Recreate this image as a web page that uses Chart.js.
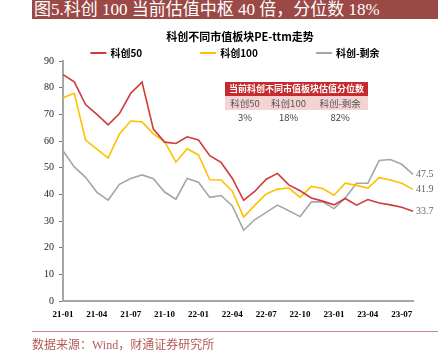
<!DOCTYPE html>
<html>
<head>
<meta charset="utf-8">
<script src="https://cdn.jsdelivr.net/npm/chart.js@4.4.0/dist/chart.umd.min.js"></script>
<style>
  html, body { margin: 0; padding: 0; background: #fff; }
  #wrap { position: relative; width: 438px; height: 355px; overflow: hidden; }
  #c { position: absolute; left: 0; top: 0; }
  #banner { position: absolute; left: 32px; top: 0; width: 406px; height: 19px; background: #9b4946;
    color: #fff; font: 17px "Liberation Serif", "Noto Sans CJK SC", serif; line-height: 19px; padding-left: 2px; box-sizing: border-box; white-space: nowrap; }
  #rule { position: absolute; left: 32px; top: 331px; width: 406px; height: 1px; background: #c98a8a; }
  #source { position: absolute; left: 32px; top: 338px; color: #b45a57; font: 12px "Liberation Serif", "Noto Sans CJK SC", serif; line-height: 15px; white-space: nowrap; }
  #tbl { position: absolute; left: 225px; top: 82px; width: 143px; border-collapse: collapse; font-family: "Noto Sans CJK SC", sans-serif; }
  #tbl td { padding: 0; text-align: center; height: 14px; line-height: 14px; white-space: nowrap; }
  #tbl .hd td { background: #c52b2e; color: #fff; font-weight: bold; font-size: 9px; }
  #tbl .r2 td { background: #f5d3d3; color: #555; font-size: 9.5px; }
  #tbl .r3 td { background: #fff; color: #444; font-size: 9.5px; }
</style>
</head>
<body>
<div id="wrap">
  <canvas id="c" width="438" height="355"></canvas>
  <div id="banner"></div>
  <table id="tbl"></table>
  <div id="rule"></div>
  <div id="source"></div>
</div>
<script>
// ---- data ----
const bannerText = '图5.科创 100 当前估值中枢 40 倍，分位数 18%';
const chartTitle = '科创不同市值板块PE-ttm走势';
const sourceText = '数据来源：Wind，财通证券研究所';
const months = ['21-01','21-02','21-03','21-04','21-05','21-06','21-07','21-08','21-09','21-10','21-11','21-12',
                '22-01','22-02','22-03','22-04','22-05','22-06','22-07','22-08','22-09','22-10','22-11','22-12',
                '23-01','23-02','23-03','23-04','23-05','23-06','23-07','23-08'];
const seriesNames = ['科创50', '科创100', '科创-剩余'];
const kc50 = [84.9, 82.2, 73.7, 70.0, 66.1, 70.3, 77.9, 82.1, 64.5, 59.6, 59.1, 61.6,
              60.4, 54.5, 52.0, 46.0, 37.8, 41.2, 45.7, 47.9, 43.6, 41.4, 38.7, 37.5,
              36.1, 38.5, 36.0, 38.1, 36.8, 36.1, 35.2, 33.7];
const kc100 = [76.2, 77.9, 60.4, 57.0, 53.7, 62.7, 67.5, 67.2, 62.7, 59.8, 52.1, 57.1,
               54.8, 45.5, 45.4, 41.2, 31.5, 36.0, 40.2, 42.0, 42.4, 38.9, 43.0, 42.2,
               39.7, 44.2, 43.4, 42.4, 46.3, 45.4, 44.2, 41.9];
const kcRest = [56.4, 50.3, 46.4, 40.8, 37.9, 43.8, 46.0, 47.3, 45.9, 40.9, 38.2, 46.0,
                44.6, 38.9, 39.6, 35.7, 26.6, 30.6, 33.3, 36.0, 33.9, 31.7, 37.2, 37.2,
                34.7, 38.7, 44.2, 44.2, 52.7, 53.1, 51.3, 47.5];
const yMin = 0, yMax = 90, yStep = 10;
const tableTitle = '当前科创不同市值板块估值分位数';
const tableNames = ['科创50', '科创100', '科创-剩余'];
const tablePct = ['3%', '18%', '82%'];

// ---- text overlays ----
document.getElementById('banner').textContent = bannerText;
document.getElementById('source').textContent = sourceText;
const tbl = document.getElementById('tbl');
tbl.innerHTML = '<tr class="hd"><td colspan="3">' + tableTitle + '</td></tr>' +
  '<tr class="r2">' + tableNames.map(t => '<td>' + t + '</td>').join('') + '</tr>' +
  '<tr class="r3">' + tablePct.map(t => '<td>' + t + '</td>').join('') + '</tr>';

const colors = ['#d13a3a', '#ffc000', '#a6a6a6'];

const headerPlugin = {
  id: 'titleLegend',
  afterDraw(chart) {
    const ctx = chart.ctx;
    const ca = chart.chartArea;
    const cx = (ca.left + ca.right) / 2;
    ctx.save();
    // title
    ctx.font = 'bold 11px "Noto Sans CJK SC", sans-serif';
    ctx.textAlign = 'center';
    ctx.textBaseline = 'middle';
    ctx.fillStyle = '#000';
    ctx.fillText(chartTitle, cx + 2, ca.top - 24);
    // legend
    ctx.textAlign = 'left';
    ctx.font = 'bold 10px "Noto Sans CJK SC", sans-serif';
    const lineW = 16, gapT = 4, gapItem = 58;
    const items = chart.data.datasets.map(ds => ({ text: ds.label, color: ds.borderColor, w: lineW + gapT + ctx.measureText(ds.label).width }));
    const total = items.reduce((s, it) => s + it.w, 0) + gapItem * (items.length - 1);
    let x = cx - 3 - total / 2;
    const y = ca.top - 8;
    items.forEach(it => {
      ctx.strokeStyle = it.color;
      ctx.lineWidth = 2;
      ctx.beginPath(); ctx.moveTo(x, y); ctx.lineTo(x + lineW, y); ctx.stroke();
      ctx.fillStyle = '#000';
      ctx.fillText(it.text, x + lineW + gapT, y + 0.5);
      x += it.w + gapItem;
    });
    ctx.restore();
  }
};

const endLabelPlugin = {
  id: 'endLabels',
  afterDatasetsDraw(chart) {
    const ctx = chart.ctx;
    ctx.save();
    ctx.font = '10px "Liberation Serif", serif';
    ctx.fillStyle = '#666';
    ctx.textBaseline = 'middle';
    ctx.textAlign = 'left';
    chart.data.datasets.forEach((ds, i) => {
      const meta = chart.getDatasetMeta(i);
      const pt = meta.data[meta.data.length - 1];
      ctx.fillText(ds.data[ds.data.length - 1].toFixed(1), pt.x + 3, pt.y);
    });
    ctx.restore();
  }
};

new Chart(document.getElementById('c'), {
  type: 'line',
  data: {
    labels: months,
    datasets: [kc50, kc100, kcRest].map((d, i) => ({
      label: seriesNames[i], data: d, borderColor: colors[i], backgroundColor: colors[i],
      borderWidth: 1.6, pointRadius: 0, tension: 0, fill: false
    }))
  },
  options: {
    responsive: false,
    animation: false,
    layout: { padding: { top: 61, left: 41, right: 25, bottom: 27 } },
    plugins: {
      legend: { display: false },
      tooltip: { enabled: false },
      title: { display: false }
    },
    scales: {
      x: {
        offset: false,
        grid: { display: true, drawOnChartArea: false, drawTicks: false },
        border: { display: true, color: '#a6a6a6', width: 2 },
        ticks: {
          autoSkip: false, maxRotation: 0, padding: 8, color: '#000',
          font: { family: '"Liberation Serif", serif', size: 9, weight: 'bold' },
          callback: (v, i) => (i % 3 === 0 ? months[i] : '')
        }
      },
      y: {
        min: yMin, max: yMax,
        afterFit: (s) => { s.width = 22; },
        grid: { display: true, drawOnChartArea: false, drawTicks: true, tickLength: 4, color: '#777' },
        border: { display: true, color: '#a6a6a6', width: 2 },
        ticks: { stepSize: yStep, padding: 5, color: '#222', font: { family: '"Liberation Serif", serif', size: 10 } }
      }
    }
  },
  plugins: [headerPlugin, endLabelPlugin]
});
</script>
</body>
</html>
